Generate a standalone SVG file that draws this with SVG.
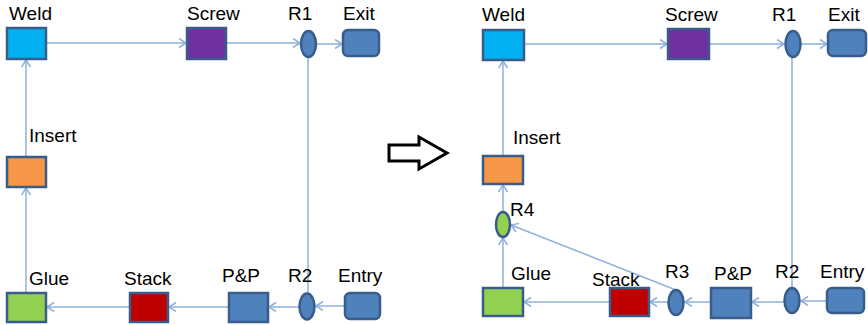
<svg xmlns="http://www.w3.org/2000/svg" width="868" height="325" viewBox="0 0 868 325">
  <defs>
    <marker id="arr" markerUnits="userSpaceOnUse" markerWidth="12" markerHeight="12" refX="8" refY="5" orient="auto">
      <path d="M1,0.5 L8,5 L1,9.5" fill="none" stroke="#8EB0DB" stroke-width="1.5"/>
    </marker>
  </defs>
  <style>
    .lbl { font-family: "Liberation Sans", Arial, sans-serif; font-size: 19px; fill: #000; }
    .box { stroke: #385D8A; stroke-width: 2.5; }
    .con { stroke: #8EB0DB; stroke-width: 1.5; fill: none; }
    .blue { fill: #4F81BD; }
  </style>

  <rect width="868" height="325" fill="#fff"/>

  <!-- connectors -->
  <g id="connectors">
    <!-- left layout -->
    <path class="con" d="M46,43 L186,43" marker-end="url(#arr)"/>
    <path class="con" d="M226,43 L300,43" marker-end="url(#arr)"/>
    <path class="con" d="M316,44 L342,44" marker-end="url(#arr)"/>
    <path class="con" d="M308,57 L308,293"/>
    <path class="con" d="M345,306 L316,306" marker-end="url(#arr)"/>
    <path class="con" d="M299,307 L269,307" marker-end="url(#arr)"/>
    <path class="con" d="M229,307 L169,307" marker-end="url(#arr)"/>
    <path class="con" d="M130,307 L47,307" marker-end="url(#arr)"/>
    <path class="con" d="M26,293 L26,188" marker-end="url(#arr)"/>
    <path class="con" d="M26,157 L26,60" marker-end="url(#arr)"/>
    <!-- right layout -->
    <path class="con" d="M524,44 L667,44" marker-end="url(#arr)"/>
    <path class="con" d="M709,44 L784,44" marker-end="url(#arr)"/>
    <path class="con" d="M801,44 L827,44" marker-end="url(#arr)"/>
    <path class="con" d="M792,57 L792,288"/>
    <path class="con" d="M827,301 L801,301" marker-end="url(#arr)"/>
    <path class="con" d="M784,302 L752,302" marker-end="url(#arr)"/>
    <path class="con" d="M711,302 L685,302" marker-end="url(#arr)"/>
    <path class="con" d="M668,302 L650,302" marker-end="url(#arr)"/>
    <path class="con" d="M610,302 L524,302" marker-end="url(#arr)"/>
    <path class="con" d="M503,288 L503,238" marker-end="url(#arr)"/>
    <path class="con" d="M503,212 L503,185" marker-end="url(#arr)"/>
    <path class="con" d="M676,290 L511,225" marker-end="url(#arr)"/>
    <path class="con" d="M503,156 L503,61" marker-end="url(#arr)"/>
  </g>

  <!-- left layout nodes -->
  <g id="weld-a"><rect class="box" x="7" y="28" width="39" height="31" fill="#00B0F0"/><text class="lbl" x="9" y="20">Weld</text></g>
  <g id="screw-a"><rect class="box" x="187" y="28" width="39" height="31" fill="#7030A0"/><text class="lbl" x="187" y="20">Screw</text></g>
  <g id="r1-a"><ellipse class="box blue" cx="308.5" cy="44" rx="7.5" ry="13"/><text class="lbl" x="288" y="20">R1</text></g>
  <g id="exit-a"><rect class="box blue" x="343" y="30" width="36" height="26" rx="5"/><text class="lbl" x="343" y="20">Exit</text></g>
  <g id="insert-a"><rect class="box" x="7" y="157" width="39" height="30" fill="#F79646"/><text class="lbl" x="29" y="142">Insert</text></g>
  <g id="glue-a"><rect class="box" x="7" y="293" width="39" height="29" fill="#92D050"/><text class="lbl" x="29" y="285">Glue</text></g>
  <g id="stack-a"><rect class="box" x="130" y="293" width="38" height="29" fill="#C00000"/><text class="lbl" x="124" y="285">Stack</text></g>
  <g id="pp-a"><rect class="box blue" x="229" y="293" width="39" height="29"/><text class="lbl" x="222" y="282">P&amp;P</text></g>
  <g id="r2-a"><ellipse class="box blue" cx="307" cy="306.5" rx="7.5" ry="13"/><text class="lbl" x="288" y="282">R2</text></g>
  <g id="entry-a"><rect class="box blue" x="345" y="293" width="35" height="26" rx="5"/><text class="lbl" x="338" y="282">Entry</text></g>

  <!-- transition arrow -->
  <g id="transition">
    <polygon points="389,145 419,145 419,137 447,153 419,169 419,161 389,161" fill="#fff" stroke="#000" stroke-width="3" stroke-linejoin="miter"/>
  </g>

  <!-- right layout nodes -->
  <g id="weld-b"><rect class="box" x="483" y="30" width="41" height="30" fill="#00B0F0"/><text class="lbl" x="482" y="21">Weld</text></g>
  <g id="screw-b"><rect class="box" x="668" y="29" width="41" height="30" fill="#7030A0"/><text class="lbl" x="665" y="21">Screw</text></g>
  <g id="r1-b"><ellipse class="box blue" cx="793" cy="44" rx="7.5" ry="13"/><text class="lbl" x="772" y="21">R1</text></g>
  <g id="exit-b"><rect class="box blue" x="828" y="30" width="38" height="26" rx="5"/><text class="lbl" x="828" y="21">Exit</text></g>
  <g id="insert-b"><rect class="box" x="483" y="156" width="40" height="28" fill="#F79646"/><text class="lbl" x="513" y="144">Insert</text></g>
  <g id="r4-b"><ellipse class="box" cx="503" cy="224.5" rx="7" ry="12.5" fill="#92D050"/><text class="lbl" x="510" y="216">R4</text></g>
  <g id="glue-b"><rect class="box" x="483" y="288" width="40" height="28" fill="#92D050"/><text class="lbl" x="511" y="280">Glue</text></g>
  <g id="stack-b"><rect class="box" x="610" y="288" width="39" height="28" fill="#C00000"/><text class="lbl" x="592" y="286">Stack</text></g>
  <g id="r3-b"><ellipse class="box blue" cx="676" cy="302.5" rx="7.5" ry="12.5"/><text class="lbl" x="665" y="278">R3</text></g>
  <g id="pp-b"><rect class="box blue" x="711" y="288" width="40" height="30"/><text class="lbl" x="714" y="280">P&amp;P</text></g>
  <g id="r2-b"><ellipse class="box blue" cx="792" cy="300.5" rx="7.5" ry="12.5"/><text class="lbl" x="775" y="278">R2</text></g>
  <g id="entry-b"><rect class="box blue" x="827" y="288" width="37" height="25" rx="5"/><text class="lbl" x="820" y="278">Entry</text></g>
</svg>
